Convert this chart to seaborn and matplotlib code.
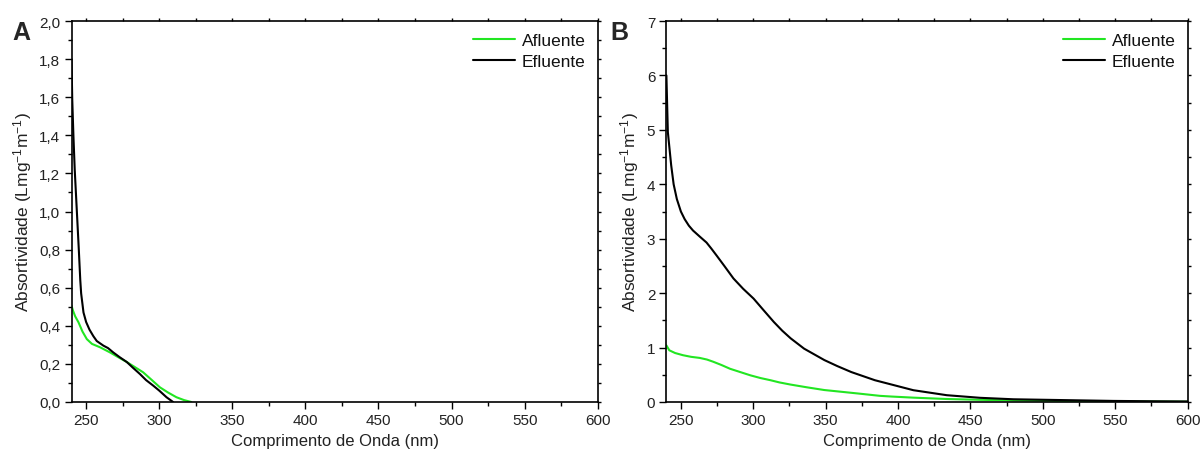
import numpy as np
import pandas as pd
import matplotlib
matplotlib.use("Agg")
import matplotlib.pyplot as plt
from matplotlib.ticker import MultipleLocator, FuncFormatter
import seaborn as sns

# ---- Data ----
# Panel A
a_afl_x = [240, 241, 242.5, 244.8, 247.5, 250.5, 254, 259.6, 266.4, 272, 277.8, 283, 289, 295, 300.5, 306, 311.8, 317, 322]
a_afl_y = [0.506, 0.48, 0.45, 0.418, 0.37, 0.33, 0.305, 0.287, 0.26, 0.235, 0.21, 0.185, 0.156, 0.115, 0.077, 0.05, 0.025, 0.01, 0.0]
a_efl_x = [240, 240.5, 241.3, 242.2, 243.2, 244.2, 245, 246, 246.6, 248.2, 250, 252.3, 255, 257.3, 261.8, 265, 268.6, 273, 277.8, 282, 286.8, 291, 295.9, 300, 305, 309.5]
a_efl_y = [1.80, 1.59, 1.40, 1.22, 1.07, 0.92, 0.80, 0.64, 0.57, 0.47, 0.42, 0.38, 0.345, 0.32, 0.296, 0.283, 0.26, 0.235, 0.21, 0.18, 0.147, 0.115, 0.086, 0.06, 0.025, 0.0]

# Panel B
b_afl_x = [240, 242, 246, 251.4, 257, 263, 268, 272.3, 278, 284, 291, 298, 305, 311.9, 318, 325.8, 337, 349, 360, 372.4, 387.5, 395.6, 410.5, 433.6, 456.6, 479.6, 502, 525.6, 550, 575, 600]
b_afl_y = [1.04, 0.95, 0.90, 0.86, 0.83, 0.81, 0.78, 0.74, 0.68, 0.61, 0.55, 0.49, 0.44, 0.40, 0.36, 0.32, 0.27, 0.22, 0.19, 0.156, 0.113, 0.10, 0.08, 0.055, 0.04, 0.03, 0.022, 0.015, 0.01, 0.007, 0.005]
b_efl_x = [240, 241, 243.3, 245, 247.2, 250, 252.6, 255.5, 258.4, 263, 267.7, 271, 274.7, 280, 286.3, 293, 300.2, 307, 314.2, 320, 325.8, 335.1, 349.1, 358, 367.7, 384, 395.6, 410.5, 433.6, 456.6, 479.6, 502.6, 525.6, 548.6, 575, 600]
b_efl_y = [6.0, 4.96, 4.35, 4.0, 3.73, 3.50, 3.36, 3.24, 3.15, 3.04, 2.93, 2.82, 2.69, 2.50, 2.27, 2.08, 1.90, 1.69, 1.47, 1.31, 1.17, 0.98, 0.77, 0.66, 0.55, 0.40, 0.32, 0.217, 0.125, 0.077, 0.05, 0.04, 0.03, 0.02, 0.014, 0.01]

series_names = ["Afluente", "Efluente"]
colors = {"Afluente": "#22e622", "Efluente": "#000000"}
xlabel = "Comprimento de Onda (nm)"
ylabel = "Absortividade (Lmg$^{-1}$m$^{-1}$)"


def make_df(afl_x, afl_y, efl_x, efl_y):
    return pd.concat([
        pd.DataFrame({"x": afl_x, "y": afl_y, "s": "Afluente"}),
        pd.DataFrame({"x": efl_x, "y": efl_y, "s": "Efluente"}),
    ], ignore_index=True)


df_a = make_df(a_afl_x, a_afl_y, a_efl_x, a_efl_y)
df_b = make_df(b_afl_x, b_afl_y, b_efl_x, b_efl_y)

sns.set_theme(style="white")
plt.rcParams["font.family"] = ["Liberation Sans", "DejaVu Sans"]
plt.rcParams["mathtext.fontset"] = "custom"
plt.rcParams["mathtext.rm"] = "Liberation Sans"
plt.rcParams["mathtext.it"] = "Liberation Sans:italic"
plt.rcParams["mathtext.default"] = "regular"

fig = plt.figure(figsize=(12.01, 4.56), dpi=100)
H = 456.0
W = 1201.0
ax_a = fig.add_axes([71.5 / W, 1 - 403 / H, (597.7 - 71.5) / W, (403 - 22) / H])
ax_b = fig.add_axes([666.4 / W, 1 - 403 / H, (1187.7 - 666.4) / W, (403 - 22) / H])

comma = FuncFormatter(lambda v, p: f"{v:.1f}".replace(".", ","))

for ax, df, ylim, ymaj, ymin, fmt in [
    (ax_a, df_a, (0, 2.0), 0.2, 0.1, comma),
    (ax_b, df_b, (0, 7), 1, 0.5, None),
]:
    sns.lineplot(data=df, x="x", y="y", hue="s", hue_order=series_names,
                 palette=colors, estimator=None, sort=True, linewidth=1.5, ax=ax)
    ax.set_xlim(240, 600)
    ax.set_ylim(*ylim)
    ax.xaxis.set_major_locator(MultipleLocator(50))
    ax.xaxis.set_minor_locator(MultipleLocator(25))
    ax.yaxis.set_major_locator(MultipleLocator(ymaj))
    ax.yaxis.set_minor_locator(MultipleLocator(ymin))
    if fmt is not None:
        ax.yaxis.set_major_formatter(fmt)
    ax.tick_params(axis="both", which="major", direction="out", length=5, width=1,
                   labelsize=11, color="black", labelcolor="#222222", pad=3,
                   bottom=True, left=True, top=False, right=False)
    ax.tick_params(axis="both", which="minor", direction="out", length=3, width=1,
                   color="black", bottom=True, left=True, top=False, right=False)
    # small ticks on the top and right frame
    secx = ax.secondary_xaxis("top")
    secx.xaxis.set_major_locator(MultipleLocator(25))
    secx.tick_params(axis="x", which="major", direction="out", length=2, width=1,
                     labeltop=False, color="black")
    secx.spines["top"].set_visible(False)
    secy = ax.secondary_yaxis("right")
    secy.yaxis.set_major_locator(MultipleLocator(ymin))
    secy.tick_params(axis="y", which="major", direction="out", length=2, width=1,
                     labelright=False, color="black")
    secy.spines["right"].set_visible(False)
    for sp in ax.spines.values():
        sp.set_visible(True)
        sp.set_color("black")
        sp.set_linewidth(1.2)
    ax.set_xlabel(xlabel, fontsize=12, color="#222222", labelpad=4)
    ax.set_ylabel(ylabel, fontsize=12.5, color="#222222", labelpad=4)
    leg = ax.legend(loc="upper right", frameon=False, fontsize=12.5,
                    handlelength=2.4, handletextpad=0.4, labelspacing=0.3,
                    borderaxespad=0.3, bbox_to_anchor=(1.0, 1.0))
    for t in leg.get_texts():
        t.set_color("#111111")
    ax.grid(False)

fig.text(12 / W, 1 - 33 / H, "A", fontsize=18, fontweight="bold", va="center", ha="left")
fig.text(610 / W, 1 - 33 / H, "B", fontsize=18, fontweight="bold", va="center", ha="left")

fig.savefig("out.png", dpi=100)
